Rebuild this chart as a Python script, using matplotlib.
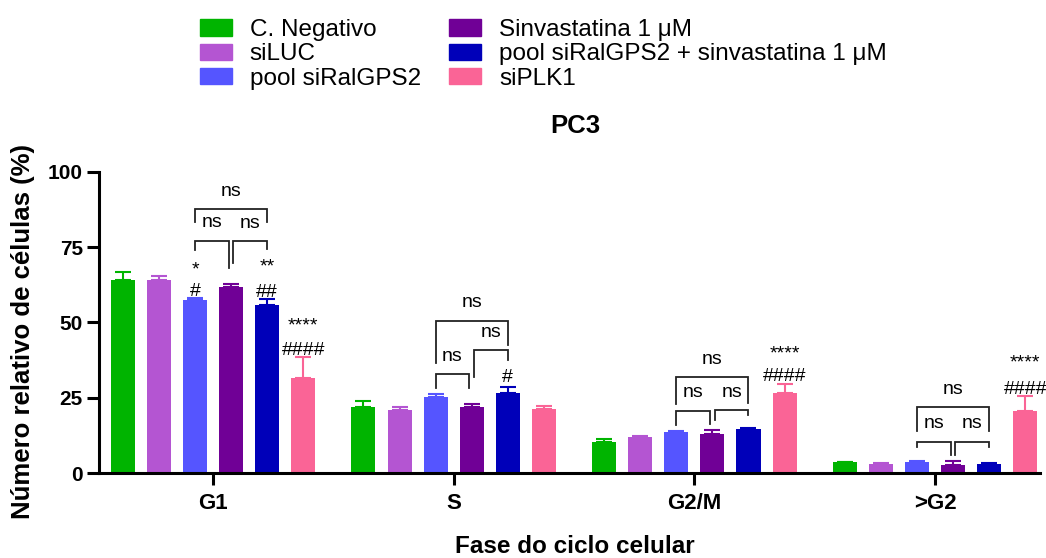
import numpy as np
import matplotlib
matplotlib.use("Agg")
import matplotlib.pyplot as plt
from matplotlib.patches import Patch

plt.rcParams['font.family'] = ['Liberation Sans', 'DejaVu Sans']

# dados (média e desvio superior)
fases = ['G1', 'S', 'G2/M', '>G2']
grupos = ['C. Negativo', 'siLUC', 'pool siRalGPS2', 'Sinvastatina 1 μM',
          'pool siRalGPS2 + sinvastatina 1 μM', 'siPLK1']
cores = ['#00B400', '#B455D2', '#5555FF', '#700096', '#0000B9', '#FA6496']

c_negativo = [64.2, 21.8, 10.4, 3.5]
siluc = [64.1, 20.9, 12.0, 3.0]
pool = [57.5, 25.2, 13.5, 3.8]
sinva = [61.9, 22.0, 13.0, 2.5]
pool_sinva = [55.8, 26.7, 14.6, 3.0]
siplk1 = [31.6, 21.4, 26.7, 20.6]
medias = [c_negativo, siluc, pool, sinva, pool_sinva, siplk1]

err_c_negativo = [2.7, 2.2, 1.0, 0.3]
err_siluc = [1.3, 1.1, 0.2, 0.2]
err_pool = [0.5, 1.0, 0.5, 0.2]
err_sinva = [0.8, 0.9, 1.3, 1.4]
err_pool_sinva = [1.9, 1.9, 0.2, 0.2]
err_siplk1 = [6.8, 1.0, 2.9, 5.0]
erros = [err_c_negativo, err_siluc, err_pool, err_sinva, err_pool_sinva, err_siplk1]

# colchetes: fase, barra esq, barra dir, topo, perna esq, perna dir, desloc esq, desloc dir
d = 0.01
colchetes = [
    (0, 2, 3, 77.2, 74.1, 68.1, 0, -d), (0, 3, 4, 77.0, 69.9, 74.3, d, 0), (0, 2, 4, 87.6, 83.5, 83.5, 0, 0),
    (1, 2, 3, 32.8, 28.2, 28.2, 0, -d), (1, 3, 4, 40.9, 31.8, 37.5, d, 0), (1, 2, 4, 50.6, 36.6, 42.5, 0, 0),
    (2, 2, 3, 20.7, 15.9, 16.3, 0, -d), (2, 3, 4, 20.9, 17.6, 19.3, d, 0), (2, 2, 4, 31.8, 22.8, 23.2, 0, 0),
    (3, 2, 3, 10.4, 8.5, 6.0, 0, -d), (3, 3, 4, 10.4, 6.0, 8.5, d, 0), (3, 2, 4, 21.8, 14.1, 14.1, 0, 0),
]
# significancia: fase, barra, texto, y
signif = [
    (0, 2, '*', 66.1), (0, 2, '#', 58.8), (0, 4, '**', 66.8), (0, 4, '##', 58.6),
    (0, 5, '****', 47.5), (0, 5, '####', 39.2),
    (1, 4, '#', 30.3),
    (2, 5, '****', 38.2), (2, 5, '####', 30.6),
    (3, 5, '****', 35.0), (3, 5, '####', 26.2),
]

largura = 0.1
passo = 0.15
x = np.arange(len(fases))

def pos(fase, barra):
    return fase + (barra - 2.5) * passo

fig = plt.figure(figsize=(10.46, 5.58), dpi=100)
ax = fig.add_axes([0.0946, 0.1523, 0.8996, 0.5395])

for i in range(len(grupos)):
    ax.bar(x + (i - 2.5) * passo, medias[i], largura, color=cores[i],
           yerr=[np.zeros(len(fases)), erros[i]],
           error_kw=dict(ecolor=cores[i], capsize=5.5, elinewidth=1.5, capthick=1.5))

for f, b1, b2, topo, y1, y2, dx1, dx2 in colchetes:
    xa = pos(f, b1) + dx1
    xb = pos(f, b2) + dx2
    ax.plot([xa, xa, xb, xb], [y1, topo, topo, y2], color='#222222', lw=1.3,
            solid_joinstyle='miter', clip_on=False)
    ax.text((xa + xb) / 2, topo + 4.4, 'ns', ha='center', va='baseline', fontsize=14)

for f, b, txt, y in signif:
    ax.text(pos(f, b), y, txt, ha='center', va='baseline', fontsize=14, clip_on=False)

ax.set_xlim(-0.474, 3.436)
ax.set_ylim(0, 100)
ax.set_yticks([0, 25, 50, 75, 100])
ax.set_xticks(x)
ax.set_xticklabels(fases)
for s in ['top', 'right']:
    ax.spines[s].set_visible(False)
for s in ['left', 'bottom']:
    ax.spines[s].set_linewidth(2.2)
ax.tick_params(axis='both', width=2.2, length=8.5, labelsize=15)
ax.tick_params(axis='y', pad=3)
ax.tick_params(axis='x', pad=6, labelsize=16)
for lb in ax.get_xticklabels() + ax.get_yticklabels():
    lb.set_fontweight('bold')

ax.set_ylabel('Número relativo de células (%)', fontsize=18.5, fontweight='bold')
ax.yaxis.set_label_coords(-0.068, 0.47)
ax.set_xlabel('Fase do ciclo celular', fontsize=17.5, fontweight='bold')
ax.xaxis.set_label_coords(0.506, -0.205)
ax.set_title('PC3', fontsize=18.5, fontweight='bold', x=0.506, y=1.129, pad=0)

handles = [Patch(color=c, label=g) for c, g in zip(cores, grupos)]
fig.legend(handles=handles, ncol=2, loc='upper left', bbox_to_anchor=(0.191, 0.966),
           frameon=False, fontsize=17.5, borderpad=0, borderaxespad=0, labelspacing=0.1,
           handlelength=1.32, handleheight=0.66, handletextpad=0.74, columnspacing=1.15)

fig.savefig('out.png', dpi=100)
